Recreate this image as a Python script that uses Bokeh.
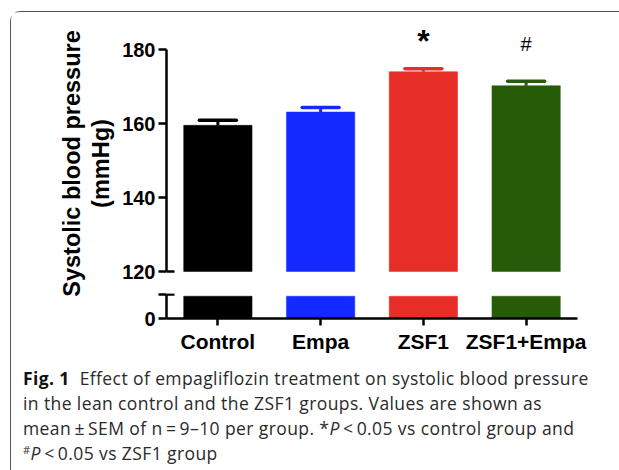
import math
from bokeh.plotting import figure
from bokeh.models import Range1d, FixedTicker, ColumnDataSource, Div
from bokeh.layouts import column, row
from bokeh.core.properties import value
from bokeh.embed import file_html
from bokeh.resources import INLINE

# ---- data ----
categories = ["Control", "Empa", "ZSF1", "ZSF1+Empa"]
means = [159.5, 163.1, 174.0, 170.2]
sems = [1.4, 1.2, 0.8, 1.2]
colors = ["#000000", "#1429FF", "#E62E27", "#265C08"]
marks = ["", "", "*", "#"]
upper_ticks = [120, 140, 160, 180]
lower_ticks = [0]
LOWER_BREAK = 6.5     # where bars are cut in the lower segment
LOWER_AXIS_TOP = 7    # top of the lower axis segment
UPPER_AXIS_BOTTOM = 120
Y_LABEL = "Systolic blood pressure\n(mmHg)"

xs = list(range(len(categories)))
tops = [m + s for m, s in zip(means, sems)]
src = ColumnDataSource(dict(x=xs, cat=categories, mean=means, top=tops, color=colors,
                            lower=[min(m, LOWER_BREAK) for m in means],
                            cl=[x - 0.18 for x in xs], cr=[x + 0.18 for x in xs]))

FONT = "Liberation Sans"
LW = 108              # width of the strip holding the y-axis title
W = 607 - LW
ML, MR = 155 - LW, 41
xr = Range1d(-0.5, 3.5)
PXU_X = (W - ML - MR) / (xr.end - xr.start)
H1, H2 = 280, 63


def style_common(p):
    p.xgrid.visible = False
    p.ygrid.visible = False
    p.outline_line_color = None
    p.background_fill_color = "white"
    p.border_fill_color = "white"


def style_axis(a, size="20px"):
    a.axis_line_width = 2.5
    a.major_tick_line_width = 2.5
    a.major_tick_in = 0
    a.minor_tick_line_color = None
    a.major_label_text_font = FONT
    a.major_label_text_font_style = "bold"
    a.major_label_text_font_size = size
    a.major_label_text_color = "black"


# ---- y-axis title strip ----
pl = figure(width=LW, height=H1 + H2, x_range=Range1d(0, LW), y_range=Range1d(0, H1 + H2),
            output_backend="svg", toolbar_location=None, x_axis_location=None,
            y_axis_location=None, min_border=0)
style_common(pl)
pl.text(x=[75], y=[H1 + H2 - 151], text=[Y_LABEL], angle=math.pi / 2,
        text_align="center", text_baseline="middle", text_font=value(FONT),
        text_font_style="bold", text_font_size="23.5px", text_line_height=1.1,
        text_color="black")

# ---- upper panel ----
p1 = figure(width=W, height=H1, x_range=xr, y_range=Range1d(119.19, 189.73),
            output_backend="svg", toolbar_location=None, x_axis_location=None,
            min_border_left=ML, min_border_right=MR, min_border_top=1, min_border_bottom=18)
style_common(p1)
p1.vbar(x="x", top="mean", bottom=UPPER_AXIS_BOTTOM, width=0.665, fill_color="color",
        line_color="color", line_width=0.5, source=src)
p1.segment(x0="x", y0="mean", x1="x", y1="top", line_color="color", line_width=3, source=src)
p1.segment(x0="cl", y0="top", x1="cr", y1="top", line_color="color", line_width=3.5,
           line_cap="round", source=src)

ya = p1.yaxis[0]
style_axis(ya)
ya.bounds = (UPPER_AXIS_BOTTOM, upper_ticks[-1])
ya.ticker = FixedTicker(ticks=upper_ticks)
ya.major_tick_out = 8
ya.major_label_standoff = 3

# break mark (inner half) at the bottom of the upper axis
p1.segment(x0=[xr.start], y0=[UPPER_AXIS_BOTTOM], x1=[xr.start + 8 / PXU_X],
           y1=[UPPER_AXIS_BOTTOM], line_color="black", line_width=2.5)

# significance marks
star = ColumnDataSource(dict(x=[x for x, m in zip(xs, marks) if m == "*"],
                             y=[t for t, m in zip(tops, marks) if m == "*"],
                             t=[m for m in marks if m == "*"]))
hsh = ColumnDataSource(dict(x=[x for x, m in zip(xs, marks) if m == "#"],
                            y=[t for t, m in zip(tops, marks) if m == "#"],
                            t=[m for m in marks if m == "#"]))
p1.text(x="x", y="y", text="t", source=star, text_font=value(FONT), text_font_style="bold",
        text_font_size="32px", text_align="center", text_baseline="alphabetic",
        y_offset=-28, text_color="black")
p1.text(x="x", y="y", text="t", source=hsh, text_font=value(FONT),
        text_font_size="20px", text_align="center", text_baseline="alphabetic",
        y_offset=-37, text_color="black")

# ---- lower panel ----
p2 = figure(width=W, height=H2, x_range=xr, y_range=Range1d(0, 7.3),
            output_backend="svg", toolbar_location=None,
            min_border_left=ML, min_border_right=MR, min_border_top=1, min_border_bottom=35)
style_common(p2)
p2.vbar(x="x", top="lower", bottom=0, width=0.665, fill_color="color",
        line_color="color", line_width=0.5, source=src)

yb = p2.yaxis[0]
style_axis(yb)
yb.bounds = (0, LOWER_AXIS_TOP)
yb.ticker = FixedTicker(ticks=lower_ticks + [LOWER_AXIS_TOP])
yb.major_label_overrides = {LOWER_AXIS_TOP: ""}
yb.major_tick_out = 8
yb.major_label_standoff = 3
p2.segment(x0=[xr.start], y0=[LOWER_AXIS_TOP], x1=[xr.start + 8 / PXU_X],
           y1=[LOWER_AXIS_TOP], line_color="black", line_width=2.5)

xa = p2.xaxis[0]
style_axis(xa, "21px")
xa.ticker = FixedTicker(ticks=xs)
xa.major_label_overrides = {x: c for x, c in zip(xs, categories)}
xa.major_tick_out = 7
xa.major_label_standoff = 4

# ---- caption ----
T = "\u2009"
caption = Div(
    text=("<b style='color:#111'>Fig. 1</b>&nbsp; Effect of empagliflozin treatment on systolic blood pressure<br>"
          "in the lean control and the ZSF1 groups. Values are shown as<br>"
          f"mean{T}±{T}SEM of n{T}={T}9–10 per group. *<i>P</i>{T}&lt;{T}0.05 vs control group and<br>"
          f"<span style='font-size:11px;vertical-align:0.55em;line-height:0'>#</span><i>P</i>{T}&lt;{T}0.05 vs ZSF1 group"),
    width=607 - 8, height=106,
    styles={"font-family": "Open Sans", "font-size": "17.5px", "line-height": "25px",
            "letter-spacing": "0.4px", "color": "#2a2a2a", "padding-left": "7px",
            "padding-top": "6px", "white-space": "nowrap"})

layout = column(row(pl, column(p1, p2)), caption, margin=(11, 0, 0, 10),
                styles={"border-left": "1px solid #555", "border-top": "1px solid #555",
                        "border-top-left-radius": "10px"})

open("out.html", "w").write(file_html(layout, INLINE))
